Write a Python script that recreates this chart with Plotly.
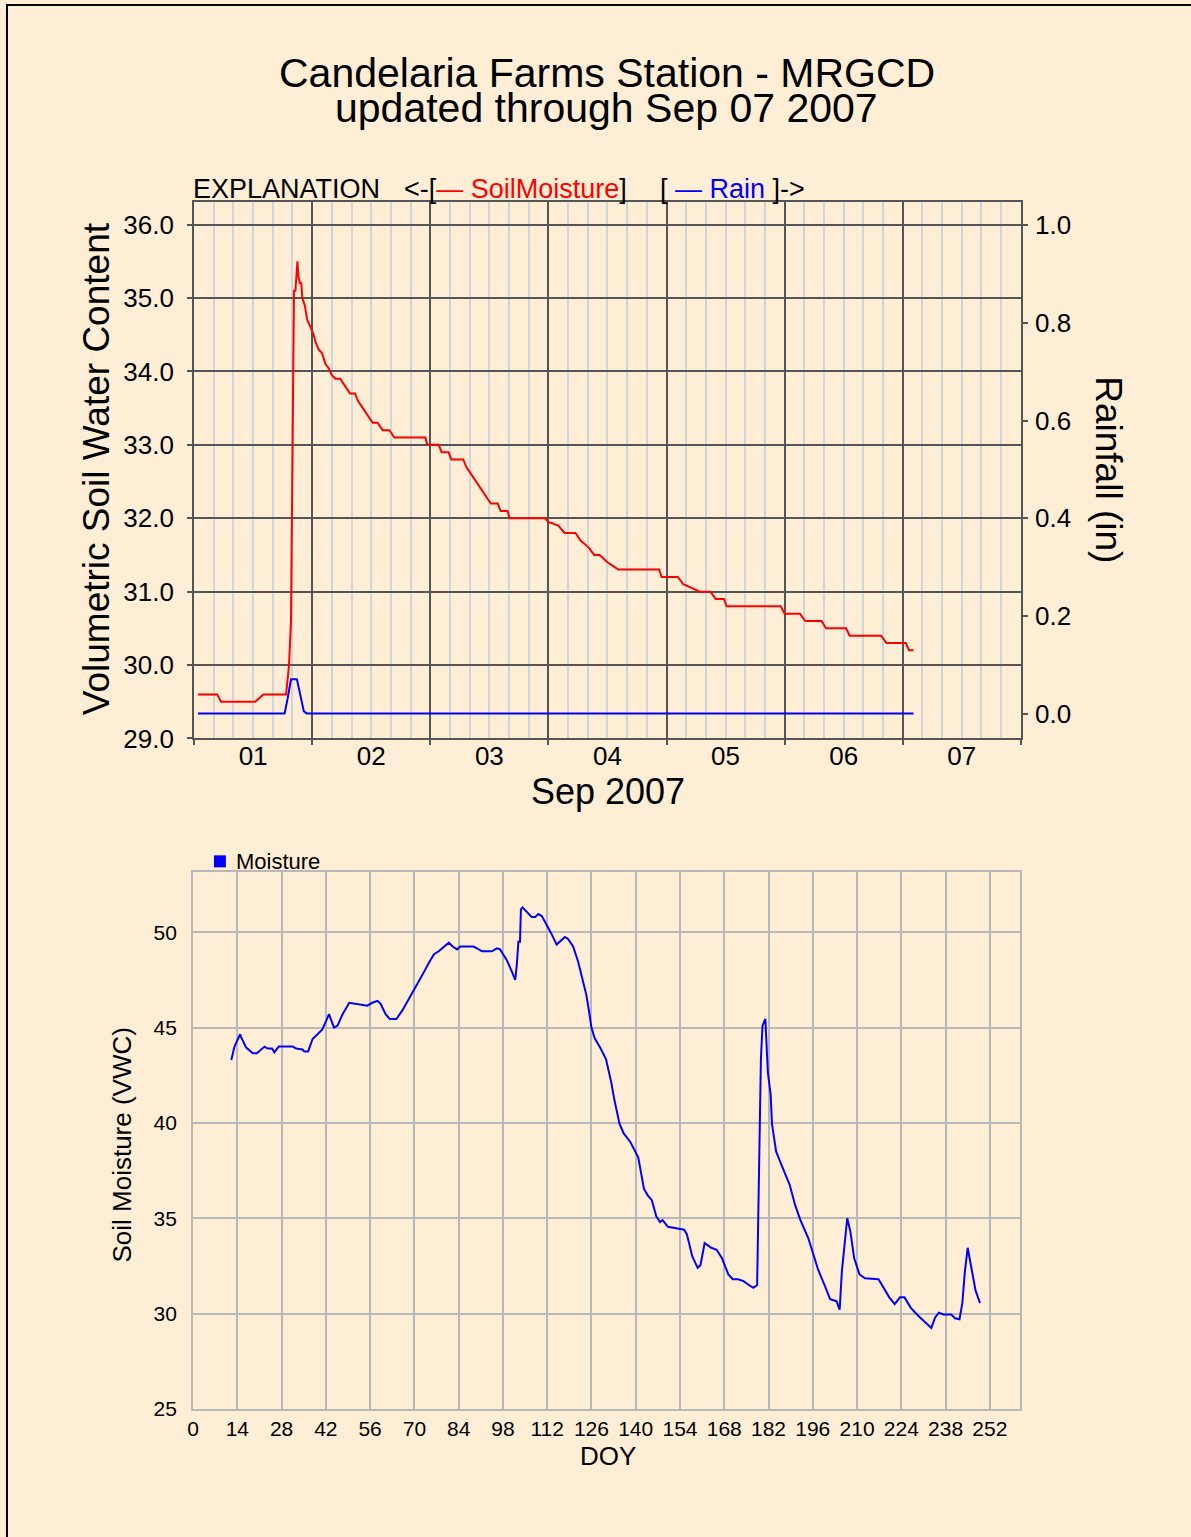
import pandas as pd
import plotly.graph_objects as go

# ---------------- data ----------------
# Top chart: hours since 2007-09-01 00:00
soil_hours = [0.8, 4.7, 5.5, 12.4, 14.1, 18.7, 19.3, 19.7, 20.0, 20.3, 20.6, 21.0, 21.2, 21.5,
              21.8, 22.0, 22.5, 23.0, 23.7, 24.3, 24.7, 25.3, 26.0, 26.7, 27.3, 28.0, 28.7,
              29.7, 30.7, 31.7, 32.7, 33.3, 34.3, 35.3, 36.3, 37.3, 38.3, 39.7, 40.7, 47.0,
              47.4, 49.7, 50.3, 51.7, 52.3, 54.7, 55.3, 56.3, 57.3, 58.3, 59.3, 60.3, 61.7,
              62.3, 63.7, 64.1, 71.3, 72.0, 74.0, 75.3, 77.5, 78.5, 80.2, 81.3, 82.4, 84.0,
              85.1, 86.2, 94.5, 95.0, 98.3, 99.4, 101.1, 102.7, 104.9, 106.0, 107.7, 108.2,
              119.2, 120.0, 123.1, 124.2, 127.5, 128.4, 132.5, 133.2, 139.6, 140.7, 144.6,
              145.3, 146.2]
soil_moisture = [29.6, 29.6, 29.5, 29.5, 29.6, 29.6, 30.0, 30.6, 32.8, 35.1, 35.1, 35.5, 35.3, 35.2,
                 35.2, 35.0, 34.9, 34.7, 34.6, 34.5, 34.4, 34.3, 34.25, 34.1, 34.05, 33.95, 33.9,
                 33.9, 33.8, 33.7, 33.7, 33.6, 33.5, 33.4, 33.3, 33.3, 33.2, 33.2, 33.1, 33.1,
                 33.0, 33.0, 32.9, 32.9, 32.8, 32.8, 32.7, 32.6, 32.5, 32.4, 32.3, 32.2, 32.2,
                 32.1, 32.1, 32.0, 32.0, 31.95, 31.9, 31.8, 31.8, 31.7, 31.6, 31.5, 31.5, 31.4,
                 31.35, 31.3, 31.3, 31.2, 31.2, 31.1, 31.05, 31.0, 31.0, 30.9, 30.9, 30.8,
                 30.8, 30.7, 30.7, 30.6, 30.6, 30.5, 30.5, 30.4, 30.4, 30.3, 30.3,
                 30.2, 30.2]

rain_hours = [0.8, 18.4, 19.0, 19.3, 19.7, 20.9, 21.6, 22.3, 22.9, 146.2]
rain_in = [0.0, 0.0, 0.03, 0.045, 0.07, 0.07, 0.035, 0.005, 0.0, 0.0]

start_date = "2007-09-01"
day_range = ["2007-09-01", "2007-09-08"]

# Bottom chart
doy = [12.1, 13.1, 14.9, 15.2, 16.8, 18.9, 20.2, 22.6, 23.6, 25.0, 25.7, 27.1, 31.5, 32.6,
       34.6, 35.2, 36.4, 37.8, 40.9, 42.0, 43.0, 43.9, 44.6, 45.7, 47.3, 49.4, 50.9, 55.1,
       56.7, 58.3, 59.3, 60.9, 62.2, 64.3, 66.2, 68.3, 70.4, 72.5, 74.6, 76.2, 77.7, 79.3,
       80.9, 82.1, 83.5, 84.5, 88.7, 89.8, 91.4, 94.5, 96.1, 97.1, 98.2, 99.2, 100.8, 101.9,
       102.4, 102.9, 103.4, 103.7, 104.2, 105.0, 106.1, 107.1, 108.2, 109.2, 110.3, 111.8,
       113.4, 115.0, 116.0, 117.6, 118.6, 120.2, 121.8, 123.4, 124.4, 125.1, 126.0, 127.0,
       128.6, 130.6, 132.3, 133.2, 134.9, 136.2, 138.3, 140.8, 142.6, 143.8, 145.1, 146.5,
       147.7, 148.5, 150.2, 151.9, 155.3, 156.2, 157.9, 159.6, 160.5, 161.8, 163.9, 165.6,
       167.3, 169.3, 170.7, 172.4, 174.1, 175.8, 177.2, 178.4, 178.9, 179.6, 180.1, 181.0,
       181.8, 182.7, 183.1, 184.4, 186.1, 188.7, 190.4, 192.1, 194.6, 196.3, 197.7, 199.7,
       201.5, 203.5, 204.5, 205.2, 206.2, 206.9, 207.9, 209.1, 210.8, 212.5, 216.8, 218.5,
       220.2, 221.9, 223.6, 225.0, 227.0, 229.6, 231.8, 233.5, 234.7, 235.9, 237.3, 239.8,
       241.0, 242.4, 243.3, 244.1, 245.0, 245.8, 246.7, 247.5, 248.9]
moisture = [43.3, 44.0, 44.65, 44.5, 43.95, 43.65, 43.65, 44.0, 43.9, 43.9, 43.7, 44.0, 44.0, 43.9,
            43.85, 43.75, 43.75, 44.4, 44.9, 45.3, 45.7, 45.3, 45.0, 45.1, 45.7, 46.3, 46.25, 46.15,
            46.3, 46.4, 46.25, 45.7, 45.45, 45.45, 45.9, 46.5, 47.1, 47.75, 48.4, 48.85, 49.0, 49.25,
            49.45, 49.25, 49.1, 49.25, 49.25, 49.15, 49.0, 49.0, 49.15, 49.1, 48.8, 48.55, 47.95, 47.5,
            48.3, 49.5, 49.5, 51.2, 51.3, 51.15, 50.95, 50.8, 50.8, 50.95, 50.85, 50.4,
            49.9, 49.35, 49.5, 49.75, 49.65, 49.25, 48.45, 47.4, 46.7, 46.0, 45.0, 44.45,
            44.0, 43.35, 42.1, 41.25, 39.95, 39.45, 39.0, 38.2, 36.55, 36.2, 35.95, 35.1,
            34.8, 34.9, 34.55, 34.5, 34.4, 34.15, 33.0, 32.4, 32.55, 33.7, 33.45, 33.35,
            32.9, 32.05, 31.8, 31.8, 31.7, 31.5, 31.35, 31.5, 37.5, 43.35, 45.1, 45.45,
            42.65, 41.45, 39.95, 38.5, 37.8, 36.75, 35.7, 34.9, 33.95, 33.1, 32.3, 31.5,
            30.75, 30.65, 30.2, 32.2, 33.95, 35.0, 34.3, 32.9, 32.05, 31.85, 31.8, 31.35,
            30.85, 30.5, 30.85, 30.85, 30.3, 29.85, 29.5, 29.25, 29.8, 30.05, 29.95, 29.95,
            29.75, 29.7, 30.55, 32.2, 33.45, 32.75, 31.85, 31.2, 30.55]

doy_ticks = list(range(0, 253, 14))
moist_ticks = [25, 30, 35, 40, 45, 50]

# ---------------- figure ----------------
W, H = 1191, 1537
BG = "#FFEED6"
FONT = "Liberation Sans, Arial, sans-serif"
OX = -2          # small horizontal correction
SY = 1 / 0.991   # small vertical correction


def px(x):
    return (x + OX) / W


def py(y):
    return 1 - (y * SY) / H


t0 = pd.Timestamp(start_date)
soil_t = [t0 + pd.Timedelta(hours=h) for h in soil_hours]
rain_t = [t0 + pd.Timedelta(hours=h) for h in rain_hours]

fig = go.Figure()
fig.add_trace(go.Scatter(x=soil_t, y=soil_moisture, mode="lines",
                         line=dict(color="#FF0000", width=2), xaxis="x", yaxis="y",
                         showlegend=False))
fig.add_trace(go.Scatter(x=rain_t, y=rain_in, mode="lines",
                         line=dict(color="#0000FF", width=2), xaxis="x", yaxis="y2",
                         showlegend=False))
fig.add_trace(go.Scatter(x=doy, y=moisture, mode="lines",
                         line=dict(color="#0000FF", width=2), xaxis="x2", yaxis="y3",
                         showlegend=False))

DARK = "#555555"
tickfont_top = dict(family=FONT, size=26, color="black")
tickfont_bot = dict(family=FONT, size=21, color="black")

fig.update_layout(
    width=W, height=H,
    paper_bgcolor=BG, plot_bgcolor=BG,
    margin=dict(l=0, r=0, t=0, b=0),
    showlegend=False,
    xaxis=dict(
        domain=[px(191), px(1022)], anchor="y", type="date",
        range=day_range, tick0=start_date, dtick=86400000,
        tickformat="%d", ticklabelmode="period",
        showgrid=True, gridcolor=DARK, gridwidth=2,
        minor=dict(dtick=4 * 3600000, showgrid=True, gridcolor="#D2D5DA", gridwidth=1.5),
        ticks="outside", ticklen=5, tickcolor=DARK, tickwidth=2,
        showline=True, linecolor=DARK, linewidth=2, mirror=True,
        tickfont=tickfont_top, zeroline=False, ticklabelstandoff=-12,
    ),
    yaxis=dict(
        domain=[py(739), py(202)], anchor="x",
        range=[29, 36.31], tick0=29, dtick=1, tickformat=".1f",
        showgrid=True, gridcolor=DARK, gridwidth=2,
        ticks="outside", ticklen=5, tickcolor=DARK, tickwidth=2,
        showline=True, linecolor=DARK, linewidth=2, mirror=True,
        tickfont=tickfont_top, zeroline=False, ticklabelstandoff=8,
    ),
    yaxis2=dict(
        overlaying="y", side="right", anchor="x",
        range=[-0.051, 1.048], tick0=0, dtick=0.2, tickformat=".1f",
        showgrid=False, zeroline=False,
        ticks="outside", ticklen=5, tickcolor=DARK, tickwidth=2,
        showline=True, linecolor=DARK, linewidth=2,
        tickfont=tickfont_top, ticklabelstandoff=2,
    ),
    xaxis2=dict(
        domain=[px(190), px(1021)], anchor="y3",
        range=[0, 261.5], tickvals=doy_ticks,
        showgrid=True, gridcolor="#B8B8B8", gridwidth=2,
        ticks="", showline=True, linecolor="#B8B8B8", linewidth=2, mirror=True,
        tickfont=tickfont_bot, zeroline=False, ticklabelstandoff=0,
    ),
    yaxis3=dict(
        domain=[py(1410), py(873)], anchor="x2",
        range=[25, 53.14], tickvals=moist_ticks,
        showgrid=True, gridcolor="#B8B8B8", gridwidth=2,
        ticks="", showline=True, linecolor="#B8B8B8", linewidth=2, mirror=True,
        tickfont=tickfont_bot, zeroline=False, ticklabelstandoff=10,
    ),
)


def ann(text, x, y, size, xanchor="center", angle=0, color="black"):
    fig.add_annotation(text=text, x=px(x), y=py(y), xref="paper", yref="paper",
                       xanchor=xanchor, yanchor="middle", showarrow=False,
                       textangle=angle, font=dict(family=FONT, size=size, color=color))


ann("Candelaria Farms Station - MRGCD", 606, 73, 41)
ann("updated through Sep 07 2007", 606, 108, 41)
ann("EXPLANATION", 188, 189, 27, xanchor="left")
ann("&lt;-[<span style='color:#FF0000'>— SoilMoisture</span>]", 400, 189, 27, xanchor="left")
ann("[ <span style='color:#0000FF'>— Rain</span> ]-&gt;", 657, 189, 27, xanchor="left")
ann("Volumetric Soil Water Content", 93, 469, 37, angle=-90)
ann("Rainfall (in)", 1110, 470, 37, angle=90)
ann("Sep 2007", 607, 792, 36)

ann("Moisture", 231, 862, 22, xanchor="left")
ann("Soil Moisture (VWC)", 119, 1146, 26, angle=-90)
ann("DOY", 607, 1457, 26)

shapes = [
    dict(type="rect", xref="paper", yref="paper", x0=px(211), x1=px(223), y0=py(868), y1=py(856),
         fillcolor="#0000FF", line=dict(width=0)),
    dict(type="rect", xref="paper", yref="paper", x0=px(3), x1=1.05, y0=-0.05, y1=py(5),
         line=dict(color="black", width=2), fillcolor="rgba(0,0,0,0)"),
]
fig.update_layout(shapes=shapes)

page_fix = ("document.body.style.margin='0';"
            "document.body.style.background='#FFEED6';"
            "document.documentElement.style.overflow='hidden';")
fig.write_html("out.html", post_script=page_fix, config={"displayModeBar": False})
